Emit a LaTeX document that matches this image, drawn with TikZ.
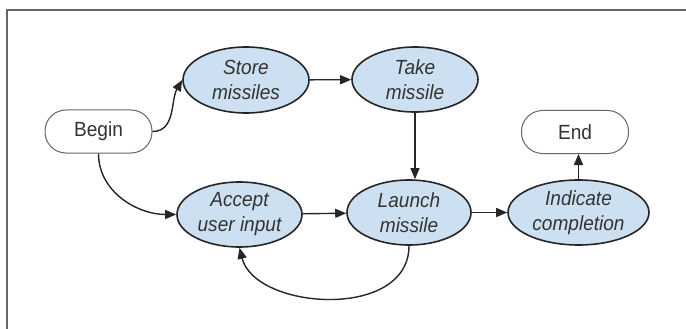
\documentclass[tikz,border=0pt]{standalone}
\usepackage{fontspec}
\setmainfont[FakeStretch=0.93]{Liberation Sans}
\usetikzlibrary{shapes.geometric,arrows.meta}
\definecolor{ellfill}{HTML}{CCE0F2}
\definecolor{ink}{HTML}{262626}
\definecolor{txt}{HTML}{333333}
\definecolor{frame}{HTML}{666666}
\begin{document}
\begin{tikzpicture}[x=1pt,y=-1pt,
  proc/.style={ellipse,draw=ink,line width=1.6pt,fill=ellfill,inner sep=0pt,
    minimum height=65pt,align=center,text=txt,
    font=\fontsize{20.5}{25}\selectfont\itshape},
  term/.style={rounded corners=21pt,draw=frame,line width=1pt,fill=white,
    minimum width=107pt,minimum height=43pt,inner sep=0pt,text=txt,
    font=\fontsize{20.5}{25}\selectfont},
  conn/.style={draw=ink,line width=1.4pt,-{Triangle[length=11pt,width=9pt]}}]
\useasboundingbox (0,0) rectangle (686,329);
\fill[white] (0,0) rectangle (686,329);
\coordinate (fbl) at (7,329);
\coordinate (ftl) at (7,10);
\coordinate (ftr) at (686,10);
\draw[frame,line width=2pt] (fbl) -- (ftl) -- (ftr);

\node[term] (begin) at (98.5,131.5) {Begin};
\node[term] (end) at (575,132) {End};
\node[proc,minimum width=126pt,minimum height=66pt] (store) at (246,80) {Store\\missiles};
\node[proc,minimum width=126pt] (take) at (415,79.5) {Take\\missile};
\node[proc,minimum width=125pt] (accept) at (239.5,214.5) {Accept\\user input};
\node[proc,minimum width=124pt] (launch) at (409,212.5) {Launch\\missile};
\node[proc,minimum width=141pt] (indicate) at (578.5,212.5) {Indicate\\completion};

\draw[conn] (begin.east) to[out=0,in=240] (store.west);
\draw[conn] (begin.south) to[out=-90,in=180] (accept.west);
\draw[conn] (store) -- (take);
\draw[conn] (take.south) -- (take.south |- launch.north);
\draw[conn] (accept) -- (launch);
\draw[conn] (launch) -- (indicate);
\draw[conn] (indicate.north) -- (indicate.north |- end.south);
\draw[conn] (launch.south) .. controls +(0,75) and (255,310) .. (accept.south);
\end{tikzpicture}
\end{document}
